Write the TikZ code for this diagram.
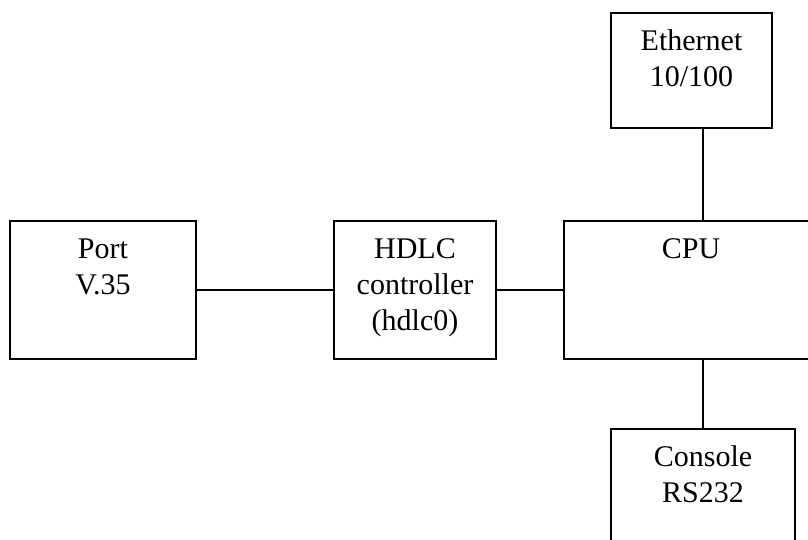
\documentclass[tikz,border=0pt]{standalone}
\usepackage{fontspec}
\setmainfont{Liberation Serif}
\begin{document}
\begin{tikzpicture}[x=1pt,y=-1pt,
  box/.style={draw, rectangle, line width=1.4pt, inner sep=0pt, fill=white},
  lbl/.style={anchor=north, inner sep=0pt, align=center, font=\fontsize{30}{36}\selectfont},
  conn/.style={line width=1.4pt}]
\clip (0,0) rectangle (808,540);
\fill[white] (0,0) rectangle (808,540);
\node[box, minimum width=186pt, minimum height=138pt] (port) at (103,290) {};
\node[box, minimum width=162pt, minimum height=138pt] (hdlc) at (415,290) {};
\node[box, minimum width=254pt, minimum height=138pt] (cpu) at (691,290) {};
\node[box, minimum width=161pt, minimum height=115pt] (eth) at (691.5,70.5) {};
\node[box, minimum width=184pt, minimum height=131pt] (con) at (703,494.5) {};
\node[lbl, yshift=-12.8pt] (portt) at (port.north) {\strut Port\\V.35};
\node[lbl, yshift=-12.8pt] (hdlct) at (hdlc.north) {\strut HDLC\\controller\\(hdlc0)};
\node[lbl, yshift=-12.8pt] (cput) at (cpu.north) {\strut CPU};
\node[lbl, yshift=-12.8pt] (etht) at (eth.north) {\strut Ethernet\\10/100};
\node[lbl, yshift=-12.8pt] (cont) at (con.north) {\strut Console\\RS232};
\draw[conn] (port.east) -- (hdlc.west);
\draw[conn] (hdlc.east) -- (cpu.west);
\draw[conn] (eth.south -| con.north) -- (cpu.north -| con.north);
\draw[conn] (cpu.south -| con.north) -- (con.north);
\end{tikzpicture}
\end{document}
